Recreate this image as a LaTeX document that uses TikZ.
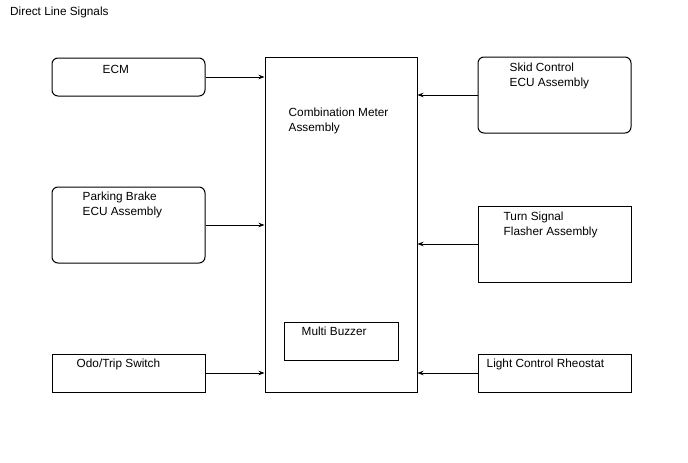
\documentclass[tikz,border=0pt]{standalone}
\usepackage{fontspec}
\setmainfont{Liberation Sans}
\usetikzlibrary{positioning, arrows.meta}
\tikzset{
	arrow/.style={line width=0.8pt, -{Stealth[length=6pt, width=4.5pt]}},
	block/.style={draw, line width=1pt, inner sep=0pt, minimum width=153pt},
	rblock/.style={block, rounded corners=6pt},
	txt/.style={inner sep=0pt, align=left, font=\fontsize{11.8}{14.5}\selectfont},
}

\begin{document}
\begin{tikzpicture}[x=1pt, y=-1pt]
			\useasboundingbox (0,0) rectangle (688,463);
			\node[txt, anchor=north west] (title) at (10,6.5) {Direct Line Signals};

			\node[block, minimum width=152pt, minimum height=335pt] (meter) at (341,224.5) {};
			\node[block, minimum width=114pt, minimum height=38pt] (buzzer) at (341,341) {};

			\node[rblock, minimum height=38pt] (ecm)  at (128.5,77) {};
			\node[rblock, minimum height=76pt] (park) at (128.5,225) {};
			\node[block, minimum height=38pt]  (odo)  at (128.5,373) {};
			\node[rblock, minimum height=76pt] (skid) at (554.5,95) {};
			\node[block, minimum height=76pt]  (turn) at (554.5,244) {};
			\node[block, minimum height=38pt]  (rheo) at (554.5,373) {};

			\node[txt, below right=51.5pt and 24pt of meter.north west] (metert) {Combination Meter\\Assembly};
			\node[txt, below right=5.5pt and 18pt of buzzer.north west] (buzzert) {Multi Buzzer};
			\node[txt, below right=7.5pt and 51pt of ecm.north west]  (ecmt)  {ECM};
			\node[txt, below right=5.5pt and 31pt of park.north west] (parkt) {Parking Brake\\ECU Assembly};
			\node[txt, below right=5.5pt and 25pt of odo.north west]  (odot)  {Odo/Trip Switch};
			\node[txt, below right=6.5pt and 32pt of skid.north west] (skidt) {Skid Control\\ECU Assembly};
			\node[txt, below right=6.5pt and 26pt of turn.north west] (turnt) {Turn Signal\\Flasher Assembly};
			\node[txt, below right=5.5pt and 9pt of rheo.north west]  (rheot) {Light Control Rheostat};

			\draw[arrow] (ecm.east)  -- (ecm.east -| meter.west);
			\draw[arrow] (park.east) -- (park.east -| meter.west);
			\draw[arrow] (odo.east)  -- (odo.east -| meter.west);
			\draw[arrow] (skid.west) -- (skid.west -| meter.east);
			\draw[arrow] (turn.west) -- (turn.west -| meter.east);
			\draw[arrow] (rheo.west) -- (rheo.west -| meter.east);
		\end{tikzpicture}
\end{document}
